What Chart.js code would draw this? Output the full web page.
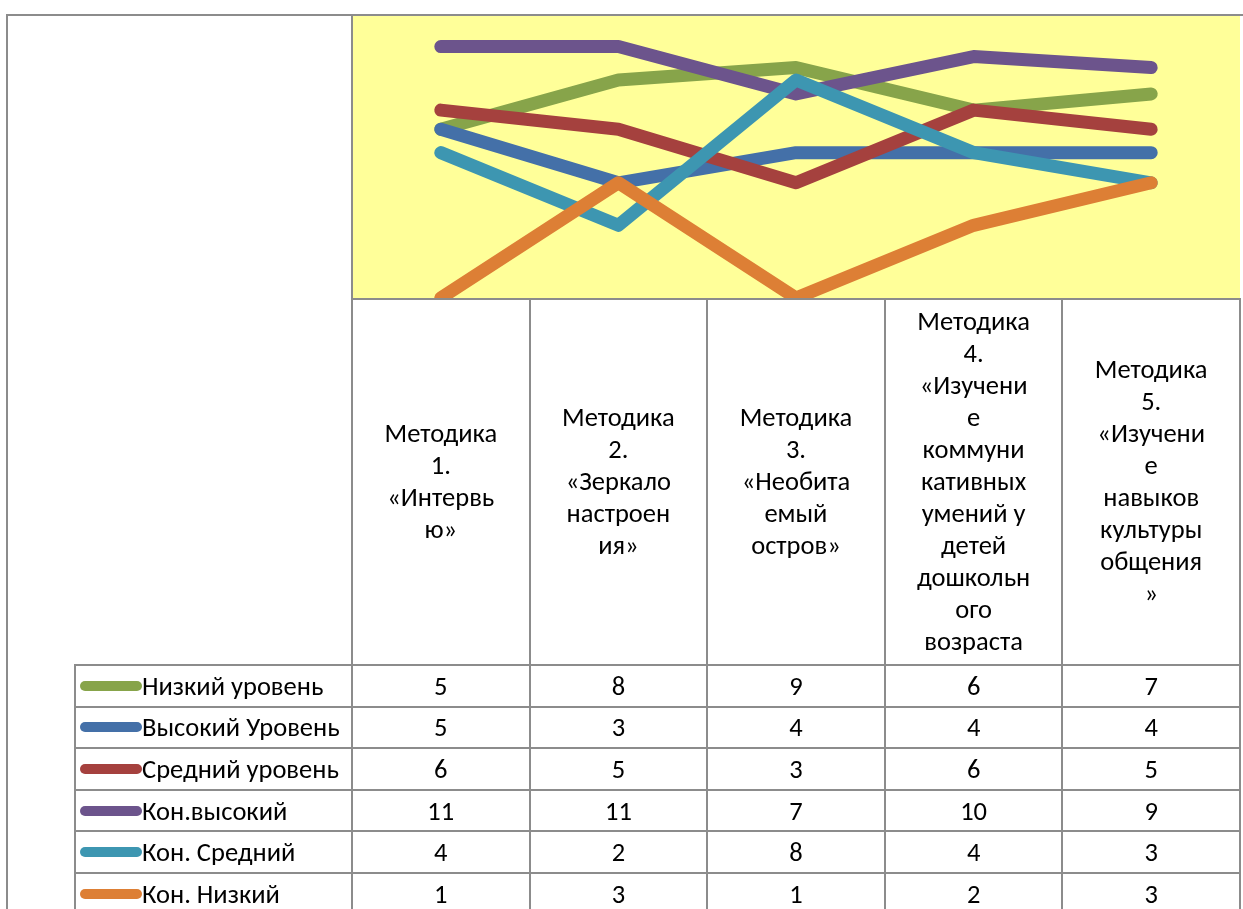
<!DOCTYPE html>
<html>
<head>
<meta charset="utf-8">
<script src="https://cdn.jsdelivr.net/npm/chart.js@4.4.1/dist/chart.umd.min.js"></script>
<style>
  body { margin: 0; width: 1243px; height: 909px; overflow: hidden; background: #fff; position: relative; }
  #chart { position: absolute; left: 0; top: 0; }
  .ln { position: absolute; background: #8c8c8c; }
  .cell { position: absolute; display: flex; align-items: center; justify-content: center; text-align: center;
          font-family: "Carlito", "Lato", "Open Sans", sans-serif; font-size: 26.5px; line-height: 32px; color: #000; }
  .lab { justify-content: flex-start; text-align: left; }
  .mk { position: absolute; height: 10px; border-radius: 5px; }
</style>
</head>
<body>
<canvas id="chart" width="1243" height="909"></canvas>
<div id="tbl"></div>
<script>
// column headers, wrapped the way the cells show them
const categories = [
  ['Методика', '1.', '«Интервь', 'ю»'],
  ['Методика', '2.', '«Зеркало', 'настроен', 'ия»'],
  ['Методика', '3.', '«Необита', 'емый', 'остров»'],
  ['Методика', '4.', '«Изучени', 'е', 'коммуни', 'кативных', 'умений у', 'детей', 'дошкольн', 'ого', 'возраста'],
  ['Методика', '5.', '«Изучени', 'е', 'навыков', 'культуры', 'общения', '»']
];

const seriesNames = ['Низкий уровень', 'Высокий Уровень', 'Средний уровень', 'Кон.высокий', 'Кон. Средний', 'Кон. Низкий'];
const lowLevel = [5, 8, 9, 6, 7];
const highLevel = [5, 3, 4, 4, 4];
const midLevel = [6, 5, 3, 6, 5];
const konHigh = [11, 11, 7, 10, 9];
const konMid = [4, 2, 8, 4, 3];
const konLow = [1, 3, 1, 2, 3];
const seriesValues = [lowLevel, highLevel, midLevel, konHigh, konMid, konLow];
const seriesColors = ['#87a44a', '#4470a8', '#a5413e', '#6c548c', '#3d96b1', '#dd7f35'];

const plotBg = {
  id: 'plotBg',
  beforeDraw(chart) {
    const a = chart.chartArea;
    const ctx = chart.ctx;
    ctx.save();
    ctx.fillStyle = '#ffff99';
    ctx.fillRect(a.left, a.top, a.right - a.left, a.bottom - a.top);
    ctx.restore();
  }
};

const chart = new Chart(document.getElementById('chart'), {
  type: 'line',
  data: {
    labels: categories.map((c) => c.join(' ')),
    datasets: seriesNames.map((name, i) => ({
      label: name,
      data: seriesValues[i],
      borderColor: seriesColors[i],
      backgroundColor: seriesColors[i],
      borderWidth: 13,
      borderCapStyle: 'round',
      borderJoinStyle: 'round',
      pointRadius: 0,
      tension: 0,
      clip: 0,
      order: seriesNames.length - i
    }))
  },
  options: {
    responsive: false,
    animation: false,
    devicePixelRatio: 1,
    layout: { padding: { left: 352, right: 3, top: 16, bottom: 611 } },
    scales: {
      x: { display: false, offset: true },
      y: { type: 'logarithmic', display: false, min: 1, max: 14.72 }
    },
    plugins: { legend: { display: false }, tooltip: { enabled: false } }
  },
  plugins: [plotBg]
});

// data table under the plot, columns taken from the x scale
const tbl = document.getElementById('tbl');
const area = chart.chartArea;
const band = (area.right - area.left) / categories.length;
const headerH = 366;
const rowH = 41.6;
const legendLeft = 75;
const tableTop = area.bottom;
const rowsTop = tableTop + headerH;
const tableBottom = 909;

function line(x, y, w, h) {
  const d = document.createElement('div');
  d.className = 'ln';
  d.style.left = x + 'px';
  d.style.top = y + 'px';
  d.style.width = w + 'px';
  d.style.height = h + 'px';
  tbl.appendChild(d);
}

function cell(x, y, w, h, html, cls) {
  const d = document.createElement('div');
  d.className = 'cell' + (cls ? ' ' + cls : '');
  d.style.left = x + 'px';
  d.style.top = y + 'px';
  d.style.width = w + 'px';
  d.style.height = h + 'px';
  d.innerHTML = html;
  tbl.appendChild(d);
  return d;
}

// outer frame
line(6, 14, 1243 - 6, 2);
line(6, 14, 2, 909 - 14);
// plot left edge and bottom
line(area.left - 1, area.top, 2, tableBottom - area.top);
line(area.left - 1, area.bottom, area.right - area.left + 2, 2);

categories.forEach((lines, i) => {
  const x0 = area.left + i * band;
  cell(x0, tableTop, band, headerH, lines.join('<br>'));
  line(x0 + band - 1, tableTop, 2, tableBottom - tableTop);
});

line(legendLeft - 1, rowsTop, 2, tableBottom - rowsTop);
seriesNames.forEach((name, r) => {
  const y0 = rowsTop + r * rowH;
  line(legendLeft - 1, y0, area.right - legendLeft + 2, 2);
  cell(legendLeft + 67, y0 + 1, area.left - legendLeft - 67, rowH, name, 'lab');
  const mk = document.createElement('div');
  mk.className = 'mk';
  mk.style.left = (legendLeft + 5) + 'px';
  mk.style.width = '62px';
  mk.style.top = (y0 + rowH / 2 - 4) + 'px';
  mk.style.background = seriesColors[r];
  tbl.appendChild(mk);
  seriesValues[r].forEach((v, i) => {
    cell(area.left + i * band, y0 + 1, band, rowH, String(v));
  });
});
</script>
</body>
</html>
